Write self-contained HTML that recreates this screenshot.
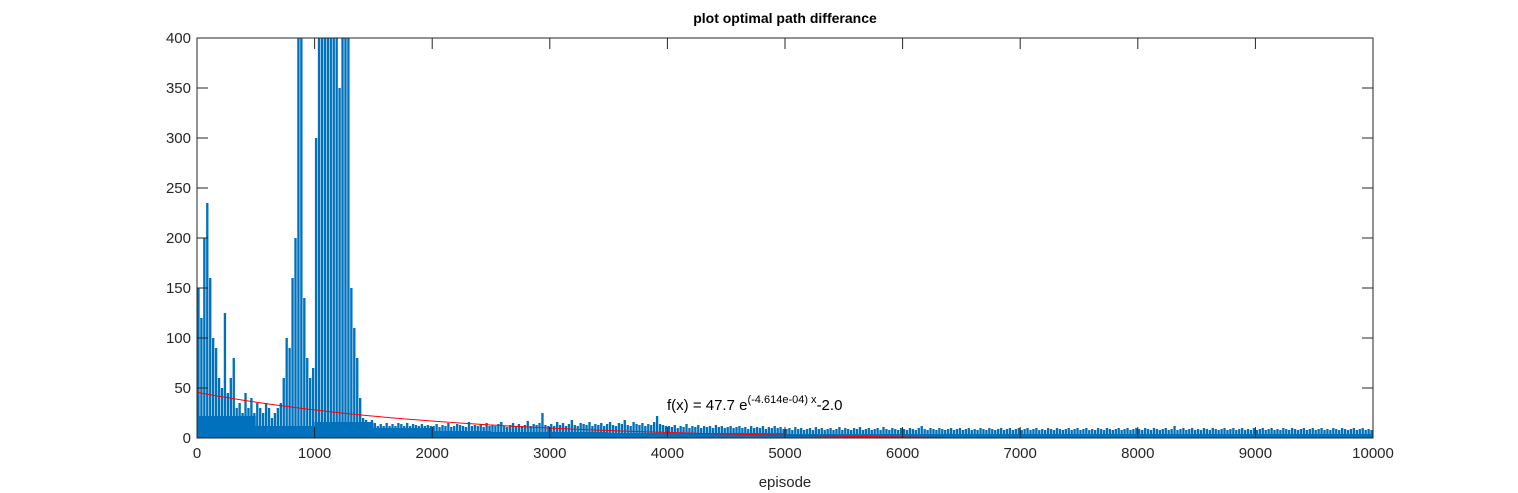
<!DOCTYPE html>
<html><head><meta charset="utf-8"><style>
body{margin:0;background:#fff;}
svg{display:block;font-family:"Liberation Sans",Arial,sans-serif;}
</style></head><body>
<svg id="chart" width="1518" height="493">
<text x="785" y="23" text-anchor="middle" font-size="14" font-weight="bold" fill="#000">plot optimal path differance</text>
<text x="785" y="487" text-anchor="middle" font-size="15" fill="#262626">episode</text>
<g id="plot"></g>
<g id="axes"></g>
<text x="667" y="410" font-size="15" fill="#000">f(x) = 47.7 e<tspan dy="-7" font-size="11">(-4.614e-04) x</tspan><tspan dy="7">-2.0</tspan></text>
</svg>
<script>
const xTicks=[0,1000,2000,3000,4000,5000,6000,7000,8000,9000,10000];
const yTicks=[0,50,100,150,200,250,300,350,400];
const binSize=25;
const peaks=[
150,120,200,235,160,100,90,60,50,125,45,60,80,30,35,25,45,30,40,25,35,30,25,35,30,20,25,30,35,60,100,90,160,200,400,400,140,80,60,70,
300,400,400,400,400,400,400,400,350,400,400,400,150,110,80,40,20,18,15,18,15,12,14,12,15,12,14,12,15,14,12,15,12,14,13,12,14,12,13,12,
12,14,11,13,12,15,11,12,14,13,12,11,16,12,13,12,14,11,15,12,13,12,14,16,12,11,13,15,12,14,12,13,17,12,14,13,15,25,13,12,
14,12,16,13,15,12,14,18,13,12,15,14,13,16,12,14,13,15,12,14,16,13,12,15,14,18,13,12,16,14,13,15,12,14,13,16,22,14,13,12,
12,11,13,10,12,11,14,10,12,11,13,10,12,11,12,10,13,11,12,10,11,12,10,11,12,10,11,9,12,10,11,10,12,9,11,10,12,10,11,9,
9,10,8,11,9,10,8,9,10,8,11,9,10,8,9,10,8,9,11,8,10,9,8,10,9,11,8,9,10,8,9,10,8,11,9,8,10,9,8,10,
9,8,10,9,8,10,12,9,8,10,9,8,10,9,8,9,10,8,9,10,8,9,10,8,9,8,10,9,8,10,9,8,9,10,8,9,10,8,9,10,
8,9,10,8,9,10,8,9,8,10,9,8,10,9,8,9,10,8,9,10,8,9,10,8,9,8,10,9,8,10,9,8,9,10,8,9,10,8,9,10,
9,8,10,9,8,10,9,8,9,10,8,9,12,8,9,10,8,9,10,8,9,8,10,9,8,10,9,8,9,10,8,9,10,8,9,10,8,9,8,10,
8,9,10,8,9,10,8,9,8,10,9,8,10,9,8,9,10,8,9,10,8,9,10,8,9,8,10,9,8,10,9,8,9,10,8,9,10,8,9,8
];
const denseStep=500;
const denseLevel=[22,12,16,10,7,6,6,5,5,5,4,4,4,4,4,4,4,4,4,4];
const fitA=47.7, fitB=-4.614e-4, fitC=-2.0;

const L=197,R=1373,T=38,B=438;
const sx=v=>L+(v/10000)*(R-L);
const sy=v=>B-(Math.min(v,400)/400)*(B-T);
const ns="http://www.w3.org/2000/svg";
function mk(t,a){const e=document.createElementNS(ns,t);for(const k in a)e.setAttribute(k,a[k]);return e;}
const plot=document.getElementById('plot'),axes=document.getElementById('axes');

let d="M"+sx(0)+","+B;
denseLevel.forEach((v,i)=>{d+=" L"+sx(i*denseStep)+","+sy(v)+" L"+sx((i+1)*denseStep)+","+sy(v);});
d+=" L"+sx(10000)+","+B+" Z";
const area=mk('path',{d:d,fill:"#0072bd"});


plot.appendChild(area);

const bw=sx(binSize)-sx(0);
peaks.forEach((v,i)=>{
  const x=sx(i*binSize);
  const r=mk('rect',{x:x+0.3,y:sy(v),width:bw*0.8,height:B-sy(v),fill:"#0072bd"});
  
  
  plot.appendChild(r);
});

let fp="";
for(let e=0;e<=10000;e+=50){const v=fitA*Math.exp(fitB*e)+fitC;fp+=(fp?" L":"M")+sx(e)+","+sy(Math.max(v,0));}
const fit=mk('path',{d:fp,fill:"none",stroke:"#ff0000","stroke-width":1});


plot.appendChild(fit);

const fr=mk('rect',{x:L,y:T,width:R-L,height:B-T,fill:"none",stroke:"#262626","stroke-width":1});


axes.appendChild(fr);
xTicks.forEach(t=>{
  const x=sx(t);
  axes.appendChild(mk('line',{x1:x,x2:x,y1:B,y2:B-11,stroke:"#262626"}));
  axes.appendChild(mk('line',{x1:x,x2:x,y1:T,y2:T+11,stroke:"#262626"}));
  const tx=mk('text',{x:x,y:B+20,"text-anchor":"middle","font-size":15,fill:"#262626"});
  tx.textContent=t;
  
  
  axes.appendChild(tx);
});
yTicks.forEach(t=>{
  const y=sy(t);
  axes.appendChild(mk('line',{x1:L,x2:L+11,y1:y,y2:y,stroke:"#262626"}));
  axes.appendChild(mk('line',{x1:R,x2:R-11,y1:y,y2:y,stroke:"#262626"}));
  const tx=mk('text',{x:L-6,y:y+5,"text-anchor":"end","font-size":15,fill:"#262626"});
  tx.textContent=t;
  
  
  axes.appendChild(tx);
});
</script>
</body></html>
